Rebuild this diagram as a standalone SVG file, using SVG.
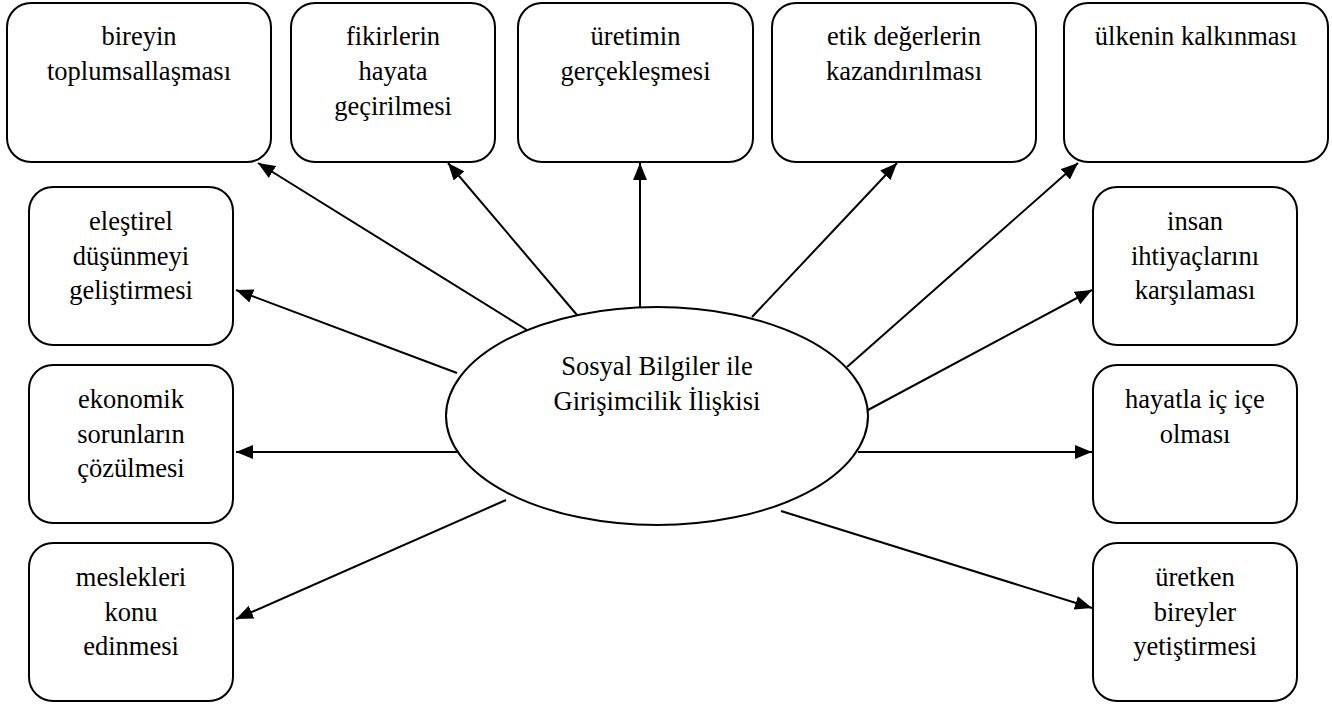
<svg xmlns="http://www.w3.org/2000/svg" width="1332" height="711" viewBox="0 0 1332 711">
<style>
.box{fill:#fff;stroke:#000;stroke-width:2}
text{font-family:'Liberation Serif','Times New Roman',serif;font-size:26.5px;fill:#000;text-anchor:middle}
.c{stroke:#000;stroke-width:2;fill:none;marker-end:url(#ah)}
</style>
<defs>
<marker id="ah" markerUnits="userSpaceOnUse" markerWidth="18" markerHeight="14" refX="17" refY="7" orient="auto">
<path d="M0,0 L17,7 L0,14 z" fill="#000"/>
</marker>
</defs>
<rect width="1332" height="711" fill="#fff"/>
<g id="connectors">
<line class="c" x1="527" y1="330" x2="258" y2="163"/>
<line class="c" x1="577" y1="315" x2="448" y2="163"/>
<line class="c" x1="640" y1="307" x2="640" y2="163"/>
<line class="c" x1="752" y1="317" x2="897" y2="163"/>
<line class="c" x1="847" y1="367" x2="1078" y2="163"/>
<line class="c" x1="457" y1="373" x2="236" y2="290"/>
<line class="c" x1="457" y1="452" x2="236" y2="452"/>
<line class="c" x1="506" y1="500" x2="236" y2="619"/>
<line class="c" x1="868" y1="410" x2="1092" y2="290"/>
<line class="c" x1="858" y1="452" x2="1092" y2="452"/>
<line class="c" x1="781" y1="511" x2="1092" y2="608"/>
</g>
<g id="center" font-family="Liberation Serif, serif">
<ellipse cx="657" cy="416" rx="211" ry="109" fill="#fff" stroke="#000" stroke-width="2"/>
<text x="657" y="375">Sosyal Bilgiler ile</text>
<text x="657" y="410">Girişimcilik İlişkisi</text>
</g>
<g id="n1" font-family="Liberation Serif, serif">
<rect class="box" x="7" y="3" width="264" height="159" rx="24"/>
<text x="139" y="45">bireyin</text>
<text x="139" y="80">toplumsallaşması</text>
</g>
<g id="n2" font-family="Liberation Serif, serif">
<rect class="box" x="291" y="3" width="204" height="159" rx="24"/>
<text x="393" y="45">fikirlerin</text>
<text x="393" y="80">hayata</text>
<text x="393" y="115">geçirilmesi</text>
</g>
<g id="n3" font-family="Liberation Serif, serif">
<rect class="box" x="518" y="3" width="235" height="159" rx="24"/>
<text x="635.5" y="45">üretimin</text>
<text x="635.5" y="80">gerçekleşmesi</text>
</g>
<g id="n4" font-family="Liberation Serif, serif">
<rect class="box" x="772" y="3" width="264" height="159" rx="24"/>
<text x="904" y="45">etik değerlerin</text>
<text x="904" y="80">kazandırılması</text>
</g>
<g id="n5" font-family="Liberation Serif, serif">
<rect class="box" x="1064" y="3" width="264" height="159" rx="24"/>
<text x="1196" y="45">ülkenin kalkınması</text>
</g>
<g id="n6" font-family="Liberation Serif, serif">
<rect class="box" x="29" y="187" width="204" height="158" rx="24"/>
<text x="131" y="230">eleştirel</text>
<text x="131" y="265">düşünmeyi</text>
<text x="131" y="299">geliştirmesi</text>
</g>
<g id="n7" font-family="Liberation Serif, serif">
<rect class="box" x="29" y="365" width="204" height="158" rx="24"/>
<text x="131" y="408">ekonomik</text>
<text x="131" y="443">sorunların</text>
<text x="131" y="477">çözülmesi</text>
</g>
<g id="n8" font-family="Liberation Serif, serif">
<rect class="box" x="29" y="543" width="204" height="158" rx="24"/>
<text x="131" y="586">meslekleri</text>
<text x="131" y="621">konu</text>
<text x="131" y="655">edinmesi</text>
</g>
<g id="n9" font-family="Liberation Serif, serif">
<rect class="box" x="1093" y="187" width="204" height="158" rx="24"/>
<text x="1195" y="230">insan</text>
<text x="1195" y="265">ihtiyaçlarını</text>
<text x="1195" y="299">karşılaması</text>
</g>
<g id="n10" font-family="Liberation Serif, serif">
<rect class="box" x="1093" y="365" width="204" height="158" rx="24"/>
<text x="1195" y="408">hayatla iç içe</text>
<text x="1195" y="443">olması</text>
</g>
<g id="n11" font-family="Liberation Serif, serif">
<rect class="box" x="1093" y="543" width="204" height="158" rx="24"/>
<text x="1195" y="586">üretken</text>
<text x="1195" y="621">bireyler</text>
<text x="1195" y="655">yetiştirmesi</text>
</g>
</svg>
